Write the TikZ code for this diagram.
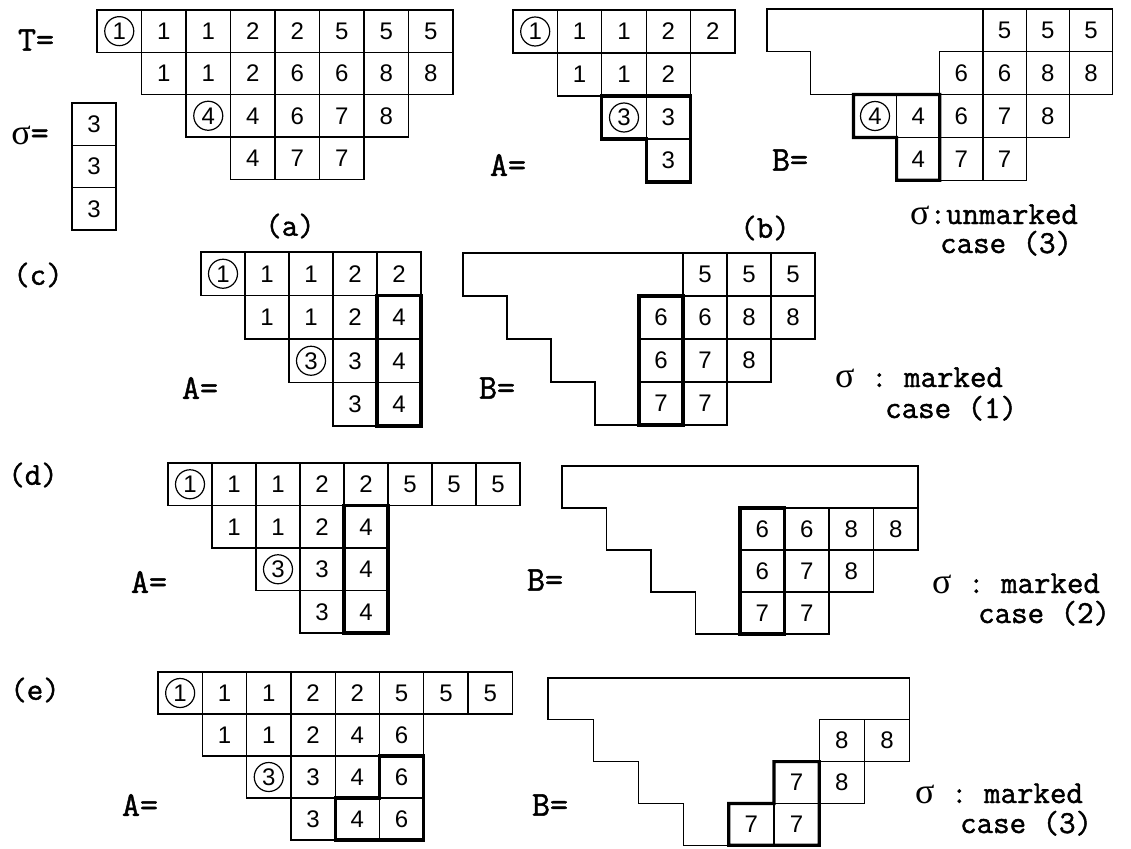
\documentclass[tikz,border=0pt]{standalone}
\usepackage{fontspec}
\setmainfont{Liberation Sans}
\setmonofont{Latin Modern Mono}[AutoFakeBold=1.3]
\newfontfamily\gkfont{Liberation Serif}
\def\cw{44}
\def\ch{43}
\newcommand{\trow}[4]{%
  \foreach \v [count=\k from #3] in {#4} {
    \node[cellbox] (#1-#2-\k) at ({(\k-0.5)*\cw},{(#2-0.5)*\ch}) {\v};
  }}
\newcommand{\fullshape}{%
  \draw[cellline] (0,0) -- ({8*\cw},0) -- ({8*\cw},{2*\ch}) -- ({7*\cw},{2*\ch}) -- ({7*\cw},{3*\ch})
   -- ({6*\cw},{3*\ch}) -- ({6*\cw},{4*\ch}) -- ({3*\cw},{4*\ch}) -- ({3*\cw},{3*\ch}) -- ({2*\cw},{3*\ch})
   -- ({2*\cw},{2*\ch}) -- ({1*\cw},{2*\ch}) -- ({1*\cw},{1*\ch}) -- (0,{1*\ch}) -- cycle;}
\newcommand{\sig}{{\gkfont\mdseries\fontsize{36}{38}\selectfont σ}}
\begin{document}
\begin{tikzpicture}[x=1pt,y=-1pt,
  cellline/.style={line width=1.3pt, line join=miter},
  cellbox/.style={draw, line width=1.3pt, minimum width=\cw pt, minimum height=\ch pt, inner sep=0pt, outer sep=0pt,
     font=\fontsize{24}{26}\selectfont},
  circmark/.style={circle, draw, line width=1.2pt, minimum size=29pt, inner sep=0pt},
  thickline/.style={line width=3.2pt, line join=miter},
  lab/.style={font=\ttfamily\bfseries\fontsize{32}{34}\selectfont, inner sep=0pt},
  biglab/.style={lab, font=\ttfamily\bfseries\fontsize{35}{37}\selectfont},
  labw/.style={lab, anchor=base west}]
\useasboundingbox[fill=white] (0,0) rectangle (1131,848);

% ---------------- (a) T ----------------
\def\cw{44.5}\def\ch{42.3}
\begin{scope}[shift={(97,10)}]
  \trow{T}{1}{1}{1,1,1,2,2,5,5,5}
  \trow{T}{2}{2}{1,1,2,6,6,8,8}
  \trow{T}{3}{3}{4,4,6,7,8}
  \trow{T}{4}{4}{4,7,7}
\end{scope}
\node[circmark] (Tc1) at (T-1-1) {};
\node[circmark] (Tc4) at (T-3-3) {};
\def\cw{44}\def\ch{42.3}
\begin{scope}[shift={(72,103)}]
  \trow{S}{1}{1}{3}
  \trow{S}{2}{1}{3}
  \trow{S}{3}{1}{3}
\end{scope}
\node[biglab] (labT) at (36,40) {T=};
\node[biglab] (labS) at (30,135) {\sig=};
\node[lab] (laba) at (290,226) {(a)};

% ---------------- (b) ----------------
\def\cw{44.4}\def\ch{43}
\begin{scope}[shift={(513,10)}]
  \trow{Ab}{1}{1}{1,1,1,2,2}
  \trow{Ab}{2}{2}{1,1,2}
  \trow{Ab}{3}{3}{3,3}
  \trow{Ab}{4}{4}{3}
\end{scope}
\node[circmark] (Abc1) at (Ab-1-1) {};
\node[circmark] (Abc3) at (Ab-3-3) {};
\draw[thickline] (Ab-3-3.north west) -- (Ab-3-4.north east) -- (Ab-4-4.south east) -- (Ab-4-4.south west)
   -- (Ab-4-4.north west) -- (Ab-3-3.south west) -- cycle;
\def\cw{43.2}\def\ch{42.8}
\begin{scope}[shift={(767,9)}]
  \fullshape
  \trow{Bb}{1}{6}{5,5,5}
  \trow{Bb}{2}{5}{6,6,8,8}
  \trow{Bb}{3}{3}{4,4,6,7,8}
  \trow{Bb}{4}{4}{4,7,7}
\end{scope}
\node[circmark] (Bbc4) at (Bb-3-3) {};
\draw[thickline] (Bb-3-3.north west) -- (Bb-3-4.north east) -- (Bb-4-4.south east) -- (Bb-4-4.south west)
   -- (Bb-4-4.north west) -- (Bb-3-3.south west) -- cycle;
\node[biglab] (labAb) at (508,165) {A=};
\node[biglab] (labBb) at (790,160) {B=};
\node[lab] (labb) at (765,228) {(b)};
\node[labw] (sigb) at (910,224) {\sig:unmarked};
\node[labw] (caseb) at (940,253) {case (3)};

% ---------------- (c) ----------------
\node[lab] (labc) at (38,275) {(c)};
\def\cw{44}\def\ch{43.5}
\begin{scope}[shift={(201,252)}]
  \trow{Ac}{1}{1}{1,1,1,2,2}
  \trow{Ac}{2}{2}{1,1,2,4}
  \trow{Ac}{3}{3}{3,3,4}
  \trow{Ac}{4}{4}{3,4}
\end{scope}
\node[circmark] (Acc1) at (Ac-1-1) {};
\node[circmark] (Acc3) at (Ac-3-3) {};
\draw[thickline] (Ac-2-5.north west) rectangle (Ac-4-5.south east);
\def\cw{44}\def\ch{43}
\begin{scope}[shift={(463,253)}]
  \fullshape
  \trow{Bc}{1}{6}{5,5,5}
  \trow{Bc}{2}{5}{6,6,8,8}
  \trow{Bc}{3}{5}{6,7,8}
  \trow{Bc}{4}{5}{7,7}
\end{scope}
\draw[thickline] (Bc-2-5.north west) rectangle (Bc-4-5.south east);
\node[biglab] (labAc) at (200,388) {A=};
\node[biglab] (labBc) at (497,388) {B=};
\node[labw] (sigc) at (835,387) {\sig{} : marked};
\node[labw] (casec) at (885,418) {case (1)};

% ---------------- (d) ----------------
\node[lab] (labd) at (33,475) {(d)};
\def\cw{44}\def\ch{42.5}
\begin{scope}[shift={(168,463)}]
  \trow{Ad}{1}{1}{1,1,1,2,2,5,5,5}
  \trow{Ad}{2}{2}{1,1,2,4}
  \trow{Ad}{3}{3}{3,3,4}
  \trow{Ad}{4}{4}{3,4}
\end{scope}
\node[circmark] (Adc1) at (Ad-1-1) {};
\node[circmark] (Adc3) at (Ad-3-3) {};
\draw[thickline] (Ad-2-5.north west) rectangle (Ad-4-5.south east);
\def\cw{44.5}\def\ch{42}
\begin{scope}[shift={(562,466)}]
  \fullshape
  \trow{Bd}{2}{5}{6,6,8,8}
  \trow{Bd}{3}{5}{6,7,8}
  \trow{Bd}{4}{5}{7,7}
\end{scope}
\draw[thickline] (Bd-2-5.north west) rectangle (Bd-4-5.south east);
\node[biglab] (labAd) at (149,582) {A=};
\node[biglab] (labBd) at (545,580) {B=};
\node[labw] (sigd) at (932,593) {\sig{} : marked};
\node[labw] (cased) at (978,623) {case (2)};

% ---------------- (e) ----------------
\node[lab] (labe) at (35,690) {(e)};
\def\cw{44.3}\def\ch{42}
\begin{scope}[shift={(158,672)}]
  \trow{Ae}{1}{1}{1,1,1,2,2,5,5,5}
  \trow{Ae}{2}{2}{1,1,2,4,6}
  \trow{Ae}{3}{3}{3,3,4,6}
  \trow{Ae}{4}{4}{3,4,6}
\end{scope}
\node[circmark] (Aec1) at (Ae-1-1) {};
\node[circmark] (Aec3) at (Ae-3-3) {};
\draw[thickline] (Ae-3-6.north west) -- (Ae-3-6.north east) -- (Ae-4-6.south east) -- (Ae-4-5.south west)
   -- (Ae-4-5.north west) -- (Ae-3-6.south west) -- cycle;
\def\cw{45.2}\def\ch{41.8}
\begin{scope}[shift={(548,678)}]
  \fullshape
  \trow{Be}{2}{7}{8,8}
  \trow{Be}{3}{6}{7,8}
  \trow{Be}{4}{5}{7,7}
\end{scope}
\draw[thickline] (Be-3-6.north west) -- (Be-3-6.north east) -- (Be-4-6.south east) -- (Be-4-5.south west)
   -- (Be-4-5.north west) -- (Be-3-6.south west) -- cycle;
\node[biglab] (labAe) at (140,805) {A=};
\node[biglab] (labBe) at (550,805) {B=};
\node[labw] (sige) at (915,803) {\sig{} : marked};
\node[labw] (casee) at (960,833) {case (3)};
\end{tikzpicture}
\end{document}
